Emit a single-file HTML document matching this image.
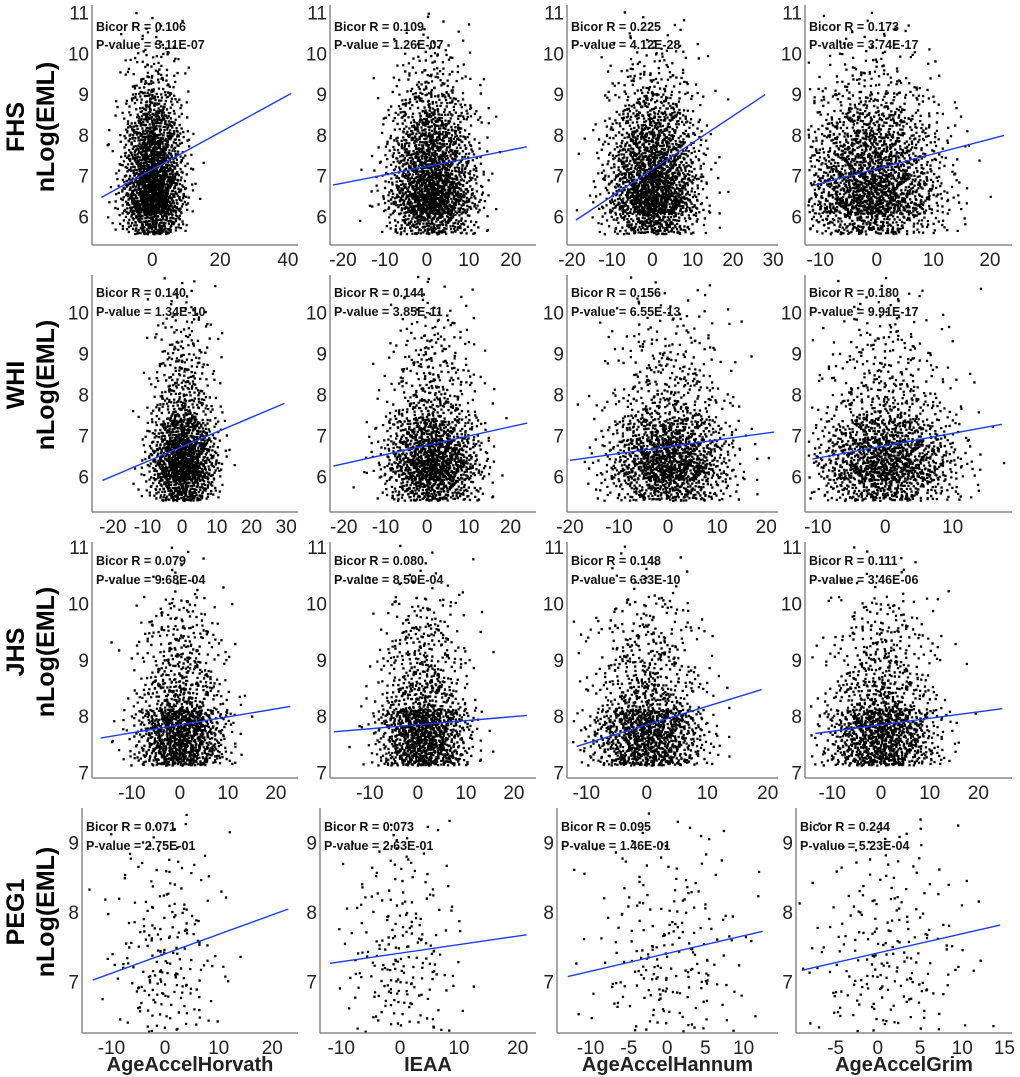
<!DOCTYPE html>
<html><head><meta charset="utf-8">
<style>
html,body{margin:0;padding:0;background:#fff;}
svg{display:block;font-family:"Liberation Sans",Arial,sans-serif;}
</style></head>
<body>
<svg id="chart" width="1020" height="1077" viewBox="0 0 1020 1077" xmlns="http://www.w3.org/2000/svg"></svg>
<script>
// ---------- data ----------
const rowNames = ['FHS','WHI','JHS','PEG1'];
const colNames = ['AgeAccelHorvath','IEAA','AgeAccelHannum','AgeAccelGrim'];
const bicorR = [
  ['0.106','0.109','0.225','0.173'],
  ['0.140','0.144','0.156','0.180'],
  ['0.079','0.080','0.148','0.111'],
  ['0.071','0.073','0.095','0.244']];
const pValues = [
  ['3.11E-07','1.26E-07','4.12E-28','3.74E-17'],
  ['1.34E-10','3.85E-11','6.55E-13','9.91E-17'],
  ['9.68E-04','8.50E-04','6.33E-10','3.46E-06'],
  ['2.75E-01','2.63E-01','1.46E-01','5.23E-04']];
const xDomains = [
  [[-17.8,43],[-23.1,26],[-21.2,31.2],[-12.7,23.9]],
  [[-26,33.4],[-23.3,26.1],[-20.6,22.4],[-11.9,18.8]],
  [[-18.3,24.6],[-18.3,24.6],[-13.2,21.7],[-15.6,26.9]],
  [[-15.5,24.8],[-13.6,23.1],[-14.4,14.5],[-9.7,15.9]]];
const yDomains = [[5.31,11.2],[5.15,10.93],[6.91,11.1],[6.27,9.5]];
const xTicks = [
  [[0,20,40],[-20,-10,0,10,20],[-20,-10,0,10,20,30],[-10,0,10,20]],
  [[-20,-10,0,10,20,30],[-20,-10,0,10,20],[-20,-10,0,10,20],[-10,0,10]],
  [[-10,0,10,20],[-10,0,10,20],[-10,0,10,20],[-10,0,10,20]],
  [[-10,0,10,20],[-10,0,10,20],[-10,-5,0,5,10],[-5,0,5,10,15]]];
const yTicks = [[6,7,8,9,10,11],[6,7,8,9,10],[7,8,9,10,11],[7,8,9]];
// regression lines: [x0,y0,x1,y1]
const fitLines = [
  [[-15,6.48,41,9.03],[-22.4,6.78,23.8,7.72],[-19,5.92,28,9.0],[-11,6.78,22.5,8.0]],
  [[-23,5.92,29.5,7.8],[-22.5,6.27,24,7.32],[-20,6.41,21.6,7.1],[-10.8,6.44,17.3,7.29]],
  [[-16.5,7.62,23,8.18],[-17.5,7.73,22.7,8.02],[-11.6,7.47,19,8.48],[-13.5,7.7,24.9,8.14]],
  [[-13.5,7.03,23,8.05],[-11.9,7.27,21.5,7.68],[-13,7.08,12.5,7.73],[-9,7.17,14.5,7.82]]];
// point clouds: x centre / x spread per panel, y histogram per row
const cloudCenter = [[0,1,0,-1],[0,1,0,0],[0,1,0,0],[0,0,0,1]];
const cloudSpread = [[4.2,5,5.5,6],[4.5,5.5,6,5],[4.5,4.5,4.5,5.5],[5,5,5,5]];
const yBinStart = [5.6,5.45,7.15,6.3];
const yBinStep = [0.5,0.5,0.5,0.5];
const yBinCounts = [
  [260,560,470,360,280,190,110,55,30,12,5],
  [280,520,420,260,120,75,55,40,25,12,6],
  [520,560,200,120,85,45,10,5],
  [35,60,50,35,22,12,4]];

// ---------- layout ----------
const rowTop = [5,275,542,808], rowBottom = [245,512,778,1033];
const colLeft = [[92,330,567,805],[92,330,567,805],[92,330,567,805],[82,320,557,796]];
const colRight = [298,536,778,1012];
const statY = [[27,45],[293,312],[561,580],[827,846]];
const rowLabelY = [127,385,652,912];

const NS='http://www.w3.org/2000/svg';
const svg=document.getElementById('chart');
function mk(tag,attrs,parent){const e=document.createElementNS(NS,tag);for(const k in attrs)e.setAttribute(k,attrs[k]);(parent||svg).appendChild(e);return e;}
function frac(v){return v-Math.floor(v);}

for(let r=0;r<4;r++){
  const g1=mk('text',{x:0,y:0,transform:`translate(24,${rowLabelY[r]}) rotate(-90)`,'text-anchor':'middle','font-size':25,'font-weight':'bold',fill:'#000'});
  g1.textContent=rowNames[r];
  
  
  const g2=mk('text',{x:0,y:0,transform:`translate(54,${rowLabelY[r]}) rotate(-90)`,'text-anchor':'middle','font-size':25,'font-weight':'bold',fill:'#000'});
  g2.textContent='nLog(EML)';
  
  

  for(let c=0;c<4;c++){
    const L=colLeft[r][c],R=colRight[c],T=rowTop[r],B=rowBottom[r];
    const [x0,x1]=xDomains[r][c],[y0,y1]=yDomains[r];
    const sx=v=>L+(v-x0)/(x1-x0)*(R-L);
    const sy=v=>B-(v-y0)/(y1-y0)*(B-T);
    const pg=mk('g',{});
    
    
    let d='';
    const counts=yBinCounts[r];
    for(let b=0;b<counts.length;b++){
      for(let i=0;i<counts[b];i++){
        const u1=Math.min(0.999,Math.max(0.002,frac((i+1)*0.7548776662+b*0.31+c*0.13)));
        const u2=frac((i+1)*0.5698402910+b*0.17+c*0.29);
        const z=Math.sqrt(-2*Math.log(u1))*Math.cos(2*Math.PI*u2);
        const xv=cloudCenter[r][c]+cloudSpread[r][c]*z;
        const yv=yBinStart[r]+yBinStep[r]*(b+frac((i+1)*0.618034+b*0.5+c*0.21));
        const px=sx(xv),py=sy(yv);
        if(px<L+2||px>R-2||py<T||py>B-2)continue;
        d+=`M${px.toFixed(1)} ${py.toFixed(1)}h2.3v2.3h-2.3z`;
      }
    }
    const pts=mk('path',{d:d,fill:'#000'},pg);
    
    
    const f=fitLines[r][c];
    const ln=mk('line',{x1:sx(f[0]),y1:sy(f[1]),x2:sx(f[2]),y2:sy(f[3]),stroke:'#1a3cf0','stroke-width':1.4},pg);
    
    
    const ya=mk('line',{x1:L,y1:T,x2:L,y2:B,stroke:'#888','stroke-width':1.5},pg);
    
    
    const xa=mk('line',{x1:L,y1:B,x2:R,y2:B,stroke:'#888','stroke-width':1.5},pg);
    
    
    for(const t of yTicks[r]){
      const tt=mk('text',{x:L-3,y:sy(t)+6.5,'text-anchor':'end','font-size':19,fill:'#222'},pg);
      tt.textContent=t;
      
      
    }
    for(const t of xTicks[r][c]){
      const tt=mk('text',{x:sx(t),y:B+21,'text-anchor':'middle','font-size':19,fill:'#222'},pg);
      tt.textContent=t;
      
      
    }
    const s1=mk('text',{x:L+4,y:statY[r][0]+4,'font-size':12.5,'font-weight':'bold',fill:'#111'},pg);
    s1.textContent='Bicor R = '+bicorR[r][c];
    
    
    const s2=mk('text',{x:L+4,y:statY[r][1]+4,'font-size':12.5,'font-weight':'bold',fill:'#111'},pg);
    s2.textContent='P-value = '+pValues[r][c];
    
    
    if(r===3){
      const xt=mk('text',{x:(L+R)/2,y:1071,'text-anchor':'middle','font-size':20,'font-weight':'bold',fill:'#222'},pg);
      xt.textContent=colNames[c];
      
      
    }
  }
}
</script>
</body></html>
